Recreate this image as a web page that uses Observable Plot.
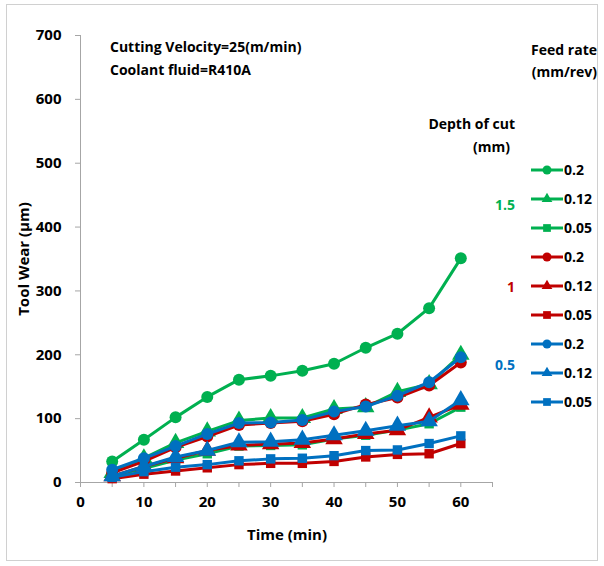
<!DOCTYPE html>
<html>
<head>
<meta charset="utf-8">
<script src="https://cdn.jsdelivr.net/npm/d3@7"></script>
<script src="https://cdn.jsdelivr.net/npm/@observablehq/plot@0.6"></script>
<style>
  html, body { margin: 0; padding: 0; background: #fff; }
  #wrap { position: relative; width: 604px; height: 566px; font-family: "Open Sans", sans-serif; }
  #wrap svg { position: absolute; left: 0; top: 0; }
</style>
</head>
<body>
<div id="wrap"></div>
<script>
// ---- data ----
const time = [5, 10, 15, 20, 25, 30, 35, 40, 45, 50, 55, 60];
const yTicks = [0, 100, 200, 300, 400, 500, 600, 700];
const xTicks = [0, 5, 10, 15, 20, 25, 30, 35, 40, 45, 50, 55, 60, 65];
const depthLabels = ["1.5", "1", "0.5"];
const feedLabels = ["0.2", "0.12", "0.05"];
const xTitle = "Time (min)";
const yTitle = "Tool Wear (µm)";

const d15_f020 = [33, 67, 102, 134, 161, 167, 175, 186, 211, 233, 273, 351];
const d15_f012 = [15, 38, 62, 80, 97, 101, 101, 115, 118, 142, 154, 200];
const d15_f005 = [10, 22, 35, 45, 57, 58, 59, 68, 74, 82, 92, 118];
const d10_f020 = [15, 33, 55, 72, 90, 93, 96, 107, 122, 133, 152, 188];
const d10_f012 = [10, 25, 38, 50, 58, 60, 62, 68, 76, 82, 102, 122];
const d10_f005 = [6, 13, 18, 23, 28, 30, 30, 33, 40, 44, 45, 61];
const d05_f020 = [20, 38, 57, 76, 93, 94, 98, 111, 119, 136, 157, 196];
const d05_f012 = [10, 25, 40, 50, 63, 64, 67, 74, 81, 89, 96, 129];
const d05_f005 = [8, 17, 24, 28, 34, 37, 38, 42, 50, 51, 61, 73];

const seriesValues = [
  [d15_f020, d15_f012, d15_f005],
  [d10_f020, d10_f012, d10_f005],
  [d05_f020, d05_f012, d05_f005]
];

const depthColors = ["#00B050", "#C00000", "#0070C0"];
const feedSymbols = ["circle", "triangle", "square"];
const feedR = [6, 6.5, 5.3];

// build series
const series = [];
depthLabels.forEach((d, i) => {
  feedLabels.forEach((f, j) => {
    series.push({
      depth: d, feed: f, color: depthColors[i], symbol: feedSymbols[j], r: feedR[j],
      rows: time.map((t, k) => ({time: t, wear: seriesValues[i][j][k]}))
    });
  });
});

const marks = [
  Plot.ruleX([0], {stroke: "#a6a6a6", strokeWidth: 1}),
  Plot.ruleY([0], {stroke: "#a6a6a6", strokeWidth: 1}),
  Plot.axisY({ticks: yTicks, tickSize: 5, tickPadding: 14, stroke: "#a6a6a6", fill: "#000", label: null}),
  Plot.axisX({ticks: xTicks, tickSize: 5, tickPadding: 9, stroke: "#a6a6a6", fill: "#000",
              tickFormat: d => d % 10 === 0 && d <= 60 ? d : "", label: null})
];
series.forEach(s => {
  marks.push(Plot.line(s.rows, {x: "time", y: "wear", stroke: s.color, strokeWidth: 3}));
  marks.push(Plot.dot(s.rows, {x: "time", y: "wear", fill: s.color, stroke: "none", symbol: s.symbol, r: s.r}));
});

const chart = Plot.plot({
  width: 604, height: 566,
  marginLeft: 80, marginRight: 112, marginTop: 35, marginBottom: 84,
  x: {domain: [0, 65]},
  y: {domain: [0, 700]},
  style: {fontFamily: "'Open Sans', sans-serif", fontSize: "15px", fontWeight: "bold", color: "#000", background: "transparent"},
  marks
});
const wrap = document.getElementById("wrap");
wrap.appendChild(chart);

// ---- overlay: border, titles, annotations, legend ----
const ov = d3.select(wrap).append("svg").attr("width", 604).attr("height", 566)
  .style("font-family", "'Open Sans', sans-serif").style("font-weight", "bold");

ov.append("rect").attr("x", 6.5).attr("y", 4.5).attr("width", 591).attr("height", 556)
  .attr("fill", "none").attr("stroke", "#d0d0d0");

ov.append("text").attr("x", 287).attr("y", 540).attr("text-anchor", "middle")
  .attr("font-size", 15).attr("fill", "#000").text(xTitle);
ov.append("text").attr("transform", "translate(29,259) rotate(-90)").attr("text-anchor", "middle")
  .attr("font-size", 15).attr("fill", "#000").text(yTitle);

const note = ov.append("g").attr("font-size", 14).attr("fill", "#000");
note.append("text").attr("x", 110).attr("y", 52).text("Cutting Velocity=25(m/min)");
note.append("text").attr("x", 110).attr("y", 75).text("Coolant fluid=R410A");

const hdr = ov.append("g").attr("font-size", 14).attr("fill", "#000").attr("text-anchor", "end");
hdr.append("text").attr("x", 597).attr("y", 55).text("Feed rate");
hdr.append("text").attr("x", 597).attr("y", 77).text("(mm/rev)");
hdr.append("text").attr("x", 515).attr("y", 129).text("Depth of cut");
hdr.append("text").attr("x", 510).attr("y", 152).text("(mm)");

const sym = {
  circle: d3.symbol(d3.symbolCircle, Math.PI * 4.5 * 4.5)(),
  triangle: d3.symbol(d3.symbolTriangle, 50)(),
  square: d3.symbol(d3.symbolSquare, 60)()
};
const leg = ov.append("g");
series.forEach((s, i) => {
  const y = 170 + i * 29;
  const g = leg.append("g").attr("transform", `translate(0,${y})`);
  g.append("line").attr("x1", 531).attr("x2", 563).attr("y1", 0).attr("y2", 0)
    .attr("stroke", s.color).attr("stroke-width", 3);
  g.append("path").attr("d", sym[s.symbol]).attr("transform", "translate(547,0)").attr("fill", s.color);
  g.append("text").attr("x", 564).attr("y", 5).attr("font-size", 14).attr("fill", "#000").text(s.feed);
});
const depthY = [210, 292, 370];
depthLabels.forEach((d, i) => {
  ov.append("text").attr("x", 515).attr("y", depthY[i]).attr("text-anchor", "end")
    .attr("font-size", 14).attr("fill", depthColors[i]).text(d);
});
</script>
</body>
</html>
